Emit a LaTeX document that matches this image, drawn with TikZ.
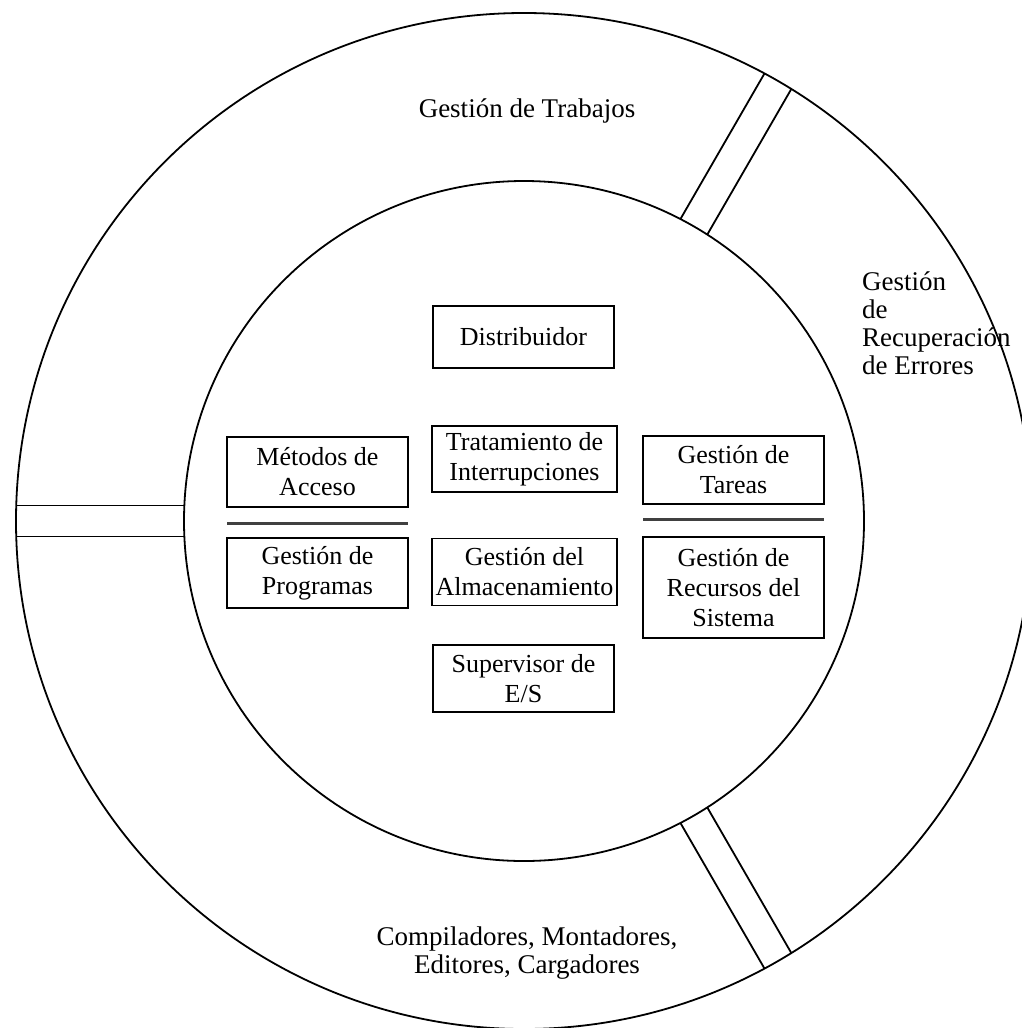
\documentclass[tikz,border=0pt]{standalone}
\usepackage{fontspec}
\setmainfont{Liberation Serif}
\usetikzlibrary{calc}
\begin{document}
\begin{tikzpicture}[x=1pt,y=-1pt,
  ring/.style={line width=1.8pt},
  modbox/.style={draw, line width=1.6pt, inner sep=0pt, align=center,
    font=\fontsize{26}{30}\selectfont},
  lbl/.style={inner sep=0pt, font=\fontsize{27}{28}\selectfont},
  sep/.style={line width=3pt, black!75}]
\clip (0,0) rectangle (1022,1028);
\useasboundingbox (0,0) rectangle (1022,1028);
\coordinate (C) at (524,521);
% rings
\draw[ring] (C) circle (508);
\draw[ring] (C) circle (340);
% radial slots joining the two rings
\foreach \a in {180,-60,60}{
  \draw[ring] ($(C)+(\a:339.6)+(\a+90:15.5)$) -- ($(C)+(\a:507.8)+(\a+90:15.5)$);
  \draw[ring] ($(C)+(\a:339.6)+(\a-90:15.5)$) -- ($(C)+(\a:507.8)+(\a-90:15.5)$);
}
% outer ring labels
\node[lbl, align=center] (trab) at (527,111) {Gestión de Trabajos};
\node[lbl, align=left, anchor=west] (err) at (862,323)
  {Gestión\\de\\Recuperación\\de Errores};
\node[lbl, align=center] (comp) at (527,953)
  {Compiladores, Montadores,\\Editores, Cargadores};
% modules
\node[modbox, minimum width=181pt, minimum height=62pt] (dist) at (523.5,337) {Distribuidor};
\node[modbox, minimum width=185pt, minimum height=66pt] (trat) at (524.5,459) {Tratamiento de\\Interrupciones};
\node[modbox, minimum width=185pt, minimum height=67pt] (alm) at (524.5,572) {Gestión del\\Almacenamiento};
\node[modbox, minimum width=181pt, minimum height=67pt] (sup) at (523.5,678.5) {Supervisor de\\E/S};
\node[modbox, minimum width=181pt, minimum height=70pt] (met) at (317.5,472) {Métodos de\\Acceso};
\node[modbox, minimum width=181pt, minimum height=70pt] (prog) at (317.5,573) {Gestión de\\Programas};
\node[modbox, minimum width=181pt, minimum height=68pt] (tar) at (733.5,470) {Gestión de\\Tareas};
\node[modbox, minimum width=181pt, minimum height=101pt] (rec) at (733.5,587.5) {Gestión de\\Recursos del\\Sistema};
% separators
\coordinate (sl1) at (227,523);
\coordinate (sl2) at (408,523);
\coordinate (sr1) at (643,519);
\coordinate (sr2) at (824,519);
\draw[sep] (sl1) -- (sl2);
\draw[sep] (sr1) -- (sr2);
\end{tikzpicture}
\end{document}
